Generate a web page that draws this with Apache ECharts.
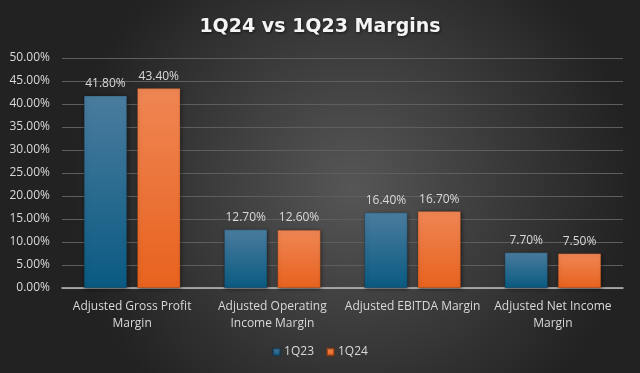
<!DOCTYPE html>
<html><head><meta charset="utf-8">
<script src="https://cdn.jsdelivr.net/npm/echarts@6/dist/echarts.min.js"></script>
<style>html,body{margin:0;padding:0;}#c{width:640px;height:373px;}</style>
</head><body><div id="c"></div>
<script>
const title = '1Q24 vs 1Q23 Margins';
const categories = ['Adjusted Gross Profit\nMargin', 'Adjusted Operating\nIncome Margin', 'Adjusted EBITDA Margin', 'Adjusted Net Income\nMargin'];
const seriesNames = ['1Q23', '1Q24'];
const values1Q23 = [41.8, 12.7, 16.4, 7.7];
const values1Q24 = [43.4, 12.6, 16.7, 7.5];

const chart = echarts.init(document.getElementById('c'), null, {renderer: 'canvas'});
const font = 'Open Sans';
function grad(top, bottom) {
  return new echarts.graphic.LinearGradient(0, 0, 0, 1, [{offset: 0, color: top}, {offset: 1, color: bottom}]);
}
const blue = grad('#4a7c9e', '#0a5a82');
const orange = grad('#ef8654', '#e8621e');
chart.setOption({
  backgroundColor: new echarts.graphic.RadialGradient(0.55, 0.5, 0.75, [
    {offset: 0, color: '#565656'}, {offset: 1, color: '#222222'}
  ]),
  title: {
    text: title, left: 'center', top: 13,
    textStyle: {color: '#f4f4f4', fontSize: 19, fontWeight: 'bold', fontFamily: 'DejaVu Sans',
      textShadowColor: 'rgba(0,0,0,0.6)', textShadowBlur: 3, textShadowOffsetX: 1, textShadowOffsetY: 1}
  },
  legend: {
    data: seriesNames, bottom: 10, left: 'center', itemWidth: 7, itemHeight: 7, itemGap: 12,
    icon: 'rect',
    textStyle: {color: '#d9d9d9', fontSize: 12, fontFamily: font, padding: [0, 0, 0, -1]}
  },
  grid: {left: 62, right: 17, top: 58, bottom: 85},
  xAxis: {
    type: 'category', data: categories,
    axisLine: {lineStyle: {color: '#bfbfbf', width: 1.5}},
    axisTick: {show: false},
    axisLabel: {color: '#d9d9d9', fontSize: 12, fontFamily: font, margin: 10, lineHeight: 17, interval: 0}
  },
  yAxis: {
    type: 'value', min: 0, max: 50, interval: 5,
    axisLine: {show: false}, axisTick: {show: false},
    splitLine: {lineStyle: {color: '#5e5e5e', width: 1}},
    axisLabel: {color: '#d9d9d9', fontSize: 12, fontFamily: font, margin: 12,
      formatter: v => v.toFixed(2) + '%'}
  },
  series: [
    {name: seriesNames[0], type: 'bar', data: values1Q23, barWidth: 43, barGap: '24%',
     itemStyle: {color: blue, borderColor: 'rgba(20,50,70,0.6)', borderWidth: 0.5,
       shadowColor: 'rgba(0,0,0,0.45)', shadowBlur: 4, shadowOffsetX: 1, shadowOffsetY: 1},
     label: {show: true, position: 'top', distance: 6, color: '#d9d9d9', fontSize: 12, fontFamily: font,
       formatter: p => p.value.toFixed(2) + '%'}},
    {name: seriesNames[1], type: 'bar', data: values1Q24, barWidth: 43,
     itemStyle: {color: orange, borderColor: 'rgba(120,50,10,0.6)', borderWidth: 0.5,
       shadowColor: 'rgba(0,0,0,0.45)', shadowBlur: 4, shadowOffsetX: 1, shadowOffsetY: 1},
     label: {show: true, position: 'top', distance: 6, color: '#d9d9d9', fontSize: 12, fontFamily: font,
       formatter: p => p.value.toFixed(2) + '%'}}
  ],
  color: ['#1f5f85', '#f06c2a']
});
</script></body></html>
